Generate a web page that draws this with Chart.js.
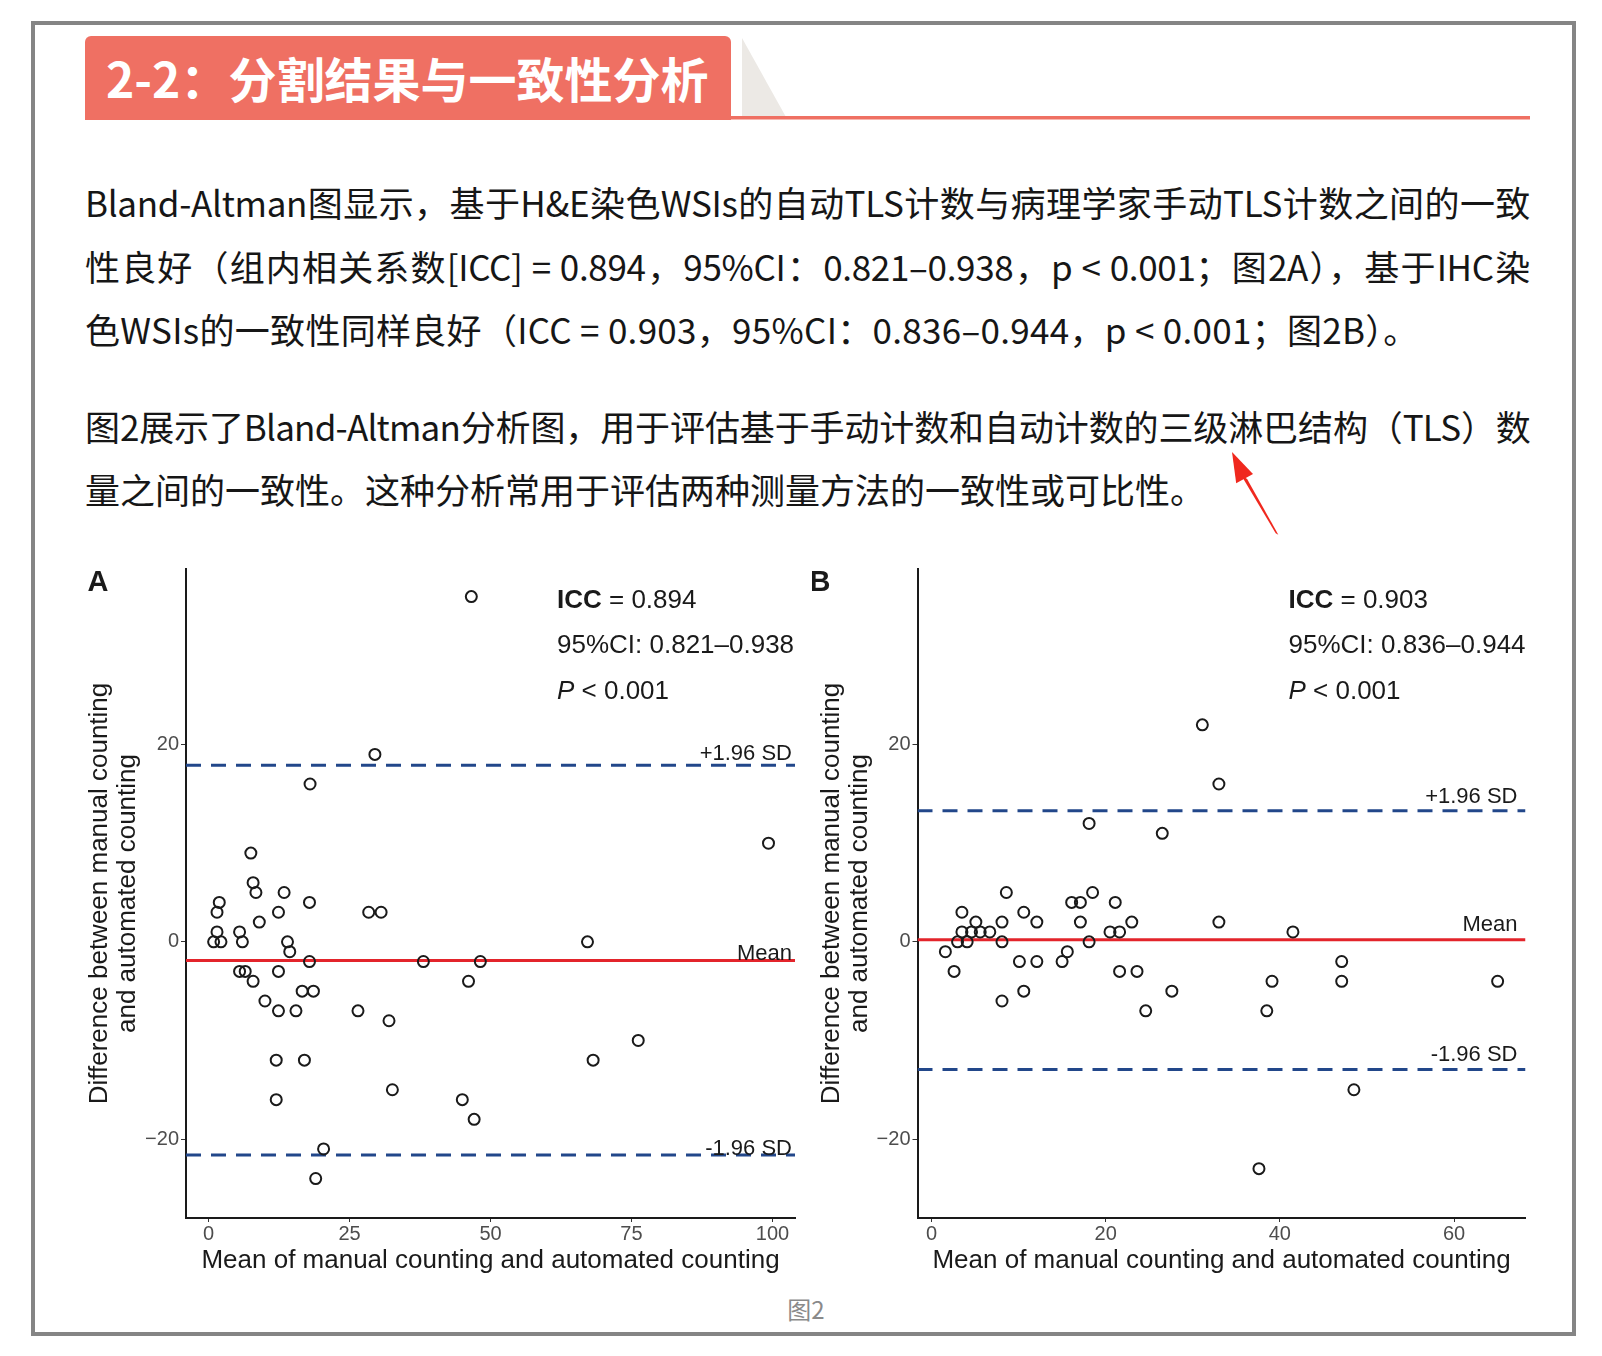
<!DOCTYPE html>
<html>
<head>
<meta charset="utf-8">
<script src="https://cdn.jsdelivr.net/npm/chart.js@4.4.1/dist/chart.umd.min.js"></script>
<style>
  body { margin: 0; width: 1602px; height: 1356px; background: #fff; position: relative; overflow: hidden; }
  .frame { position: absolute; left: 31px; top: 21px; width: 1545px; height: 1315px; border: 4px solid #858585; box-sizing: border-box; }
  .hdr { position: absolute; left: 85px; top: 36px; width: 646px; height: 84px; background: #ef7063; border-radius: 6px 6px 0 0;
         color: #fff; font: bold 48px "Noto Sans CJK SC", sans-serif; line-height: 82px; padding-left: 21px; box-sizing: border-box; white-space: nowrap; }
  .ln { position: absolute; left: 85px; width: 1445px; height: 44px; line-height: 44px; font: 35px "Noto Sans CJK SC", sans-serif;
        color: #161616; white-space: nowrap; }
  .just { text-align: justify; text-align-last: justify; }
  canvas { position: absolute; top: 550px; }
  .cap { position: absolute; left: 706px; width: 200px; top: 1291px; text-align: center; font: 24px "Noto Sans CJK SC", sans-serif; color: #8a8a8a; }
</style>
</head>
<body>
<div class="frame"></div>
<div class="hdr">2-2：分割结果与一致性分析</div>
<svg width="1602" height="600" style="position:absolute;left:0;top:0">
  <polygon points="742,38 742,117 786,117" fill="#ece9e5"/>
  <rect x="731" y="116" width="799" height="3.5" fill="#ef7063"/>
  <polygon points="1278.3,534.7 1275.7,533.3 1241.1,475.1 1247.1,478.9" fill="#f0281e"/>
  <polygon points="1232,452 1253.0,474.0 1236.2,483.2" fill="#f0281e"/>
</svg>
<div class="ln just" style="top:176px;letter-spacing:-0.3px">Bland-Altman图显示，基于H&amp;E染色WSIs的自动TLS计数与病理学家手动TLS计数之间的一致</div>
<div class="ln just" style="top:240px;letter-spacing:-0.3px">性良好（组内相关系数[ICC] = 0.894，95%CI：0.821–0.938，p &lt; 0.001；图2A），基于IHC染</div>
<div class="ln" style="top:303px;letter-spacing:0.3px">色WSIs的一致性同样良好（ICC = 0.903，95%CI：0.836–0.944，p &lt; 0.001；图2B）。</div>
<div class="ln just" style="top:400px;letter-spacing:-0.8px">图2展示了Bland-Altman分析图，用于评估基于手动计数和自动计数的三级淋巴结构（TLS）数</div>
<div class="ln" style="top:463px">量之间的一致性。这种分析常用于评估两种测量方法的一致性或可比性。</div>
<canvas id="chartA" width="730" height="724" style="left:80px"></canvas>
<canvas id="chartB" width="730" height="724" style="left:812px"></canvas>
<div class="cap">图2</div>
<script>
// tick labels
const xTicksA = [0, 25, 50, 75, 100];
const xTicksB = [0, 20, 40, 60];
const yTicks = [-20, 0, 20];

// panel A (H&E): mean of the two counts vs difference
const meanA = [0.9, 2.2, 1.5, 1.5, 1.9, 5.5, 6.0, 5.5, 6.5, 7.9, 7.5, 7.9, 8.4, 9.0, 10, 12.4, 12.4, 12.4, 12, 12,
               13.4, 14, 14.4, 15.5, 16.6, 18.6, 17, 17.9, 17.9, 18, 19, 20.4, 26.5, 28.4, 30.6, 29.5, 32, 32.6, 38.1,
               46.1, 45, 47.1, 48.2, 46.6, 67.2, 68.2, 76.2, 99.3];
const diffA = [0, 0, 1, 3, 4, 1, 0, -3, -3, -4, 9, 6, 5, 2, -6, 3, -3, -7, -12, -16,
               5, 0, -1, -7, -5, -5, -12, 4, -2, 16, -24, -21, -7, 3, 3, 19, -8, -15, -2,
               -4, -16, -18, -2, 35, 0, -12, -10, 10];

// panel B (IHC)
const meanB = [1.6, 2.6, 3.0, 4.1, 3.5, 4.6, 5.6, 6.7, 3.5, 5.1, 8.1, 8.1, 8.1, 8.6, 10.6, 12.1, 10.1, 12.1, 10.6,
               15.0, 15.6, 16.1, 17.1, 17.1, 18.1, 18.1, 18.5, 21.1, 20.5, 21.6, 23.0, 21.6, 23.6, 24.6, 26.5, 27.6,
               31.1, 33, 33, 37.6, 38.5, 39.1, 41.5, 47.1, 47.1, 48.5, 65];
const diffB = [-1, -3, 0, 0, 1, 1, 1, 1, 3, 2, 2, 0, -6, 5, 3, 2, -2, -2, -5,
               -2, -1, 4, 4, 2, 0, 12, 5, 4, 1, 1, 2, -3, -3, -7, 11, -5,
               22, 16, 2, -23, -7, -4, 1, -2, -4, -15, -4];

// +1.96 SD, mean, -1.96 SD
const limitsA = [17.9, -1.9, -21.6];
const limitsB = [13.3, 0.2, -12.95];
const limitLabels = ['+1.96 SD', 'Mean', '-1.96 SD'];

// ICC, 95% CI, P
const statsA = ['0.894', '0.821–0.938', '0.001'];
const statsB = ['0.903', '0.836–0.944', '0.001'];

const FONT = '"Liberation Sans", Arial, sans-serif';

const textPlugin = {
  id: 'blandText',
  afterDatasetsDraw(chart, args, o) {
    const ctx = chart.ctx, ca = chart.chartArea, ys = chart.scales.y;
    ctx.save();
    ctx.textBaseline = 'middle';
    ctx.fillStyle = '#1a1a1a';
    // labels over the limit lines
    ctx.font = '22px ' + FONT;
    ctx.textAlign = 'right';
    o.limits.forEach((v, i) => {
      ctx.fillText(limitLabels[i], ca.right - o.inset, ys.getPixelForValue(v) - o.lift[i]);
    });
    // ICC block
    ctx.textAlign = 'left';
    const x0 = ca.left + o.statX;
    let y = ca.top + 32;
    ctx.font = 'bold 26px ' + FONT;
    ctx.fillText('ICC', x0, y);
    let w = ctx.measureText('ICC').width;
    ctx.font = '26px ' + FONT;
    ctx.fillText(' = ' + o.stats[0], x0 + w, y);
    ctx.fillText('95%CI: ' + o.stats[1], x0, ca.top + 77);
    ctx.font = 'italic 26px ' + FONT;
    ctx.fillText('P', x0, ca.top + 123);
    w = ctx.measureText('P').width;
    ctx.font = '26px ' + FONT;
    ctx.fillText(' < ' + o.stats[2], x0 + w, ca.top + 123);
    // panel letter
    ctx.font = 'bold 29px ' + FONT;
    ctx.textAlign = 'center';
    ctx.fillText(o.letter, o.letterX, 33);
    ctx.restore();
  }
};

function makePanel(id, xs, ys, limits, xTicks, xRange, stats, letter, letterX, lift, inset, padRight, axisW) {
  const lineColors = ['#22478a', '#e3242b', '#22478a'];
  const lines = limits.map((v, i) => ({
    type: 'line',
    data: [{x: xRange[0], y: v}, {x: xRange[1], y: v}],
    borderColor: lineColors[i],
    borderWidth: 3,
    borderDash: i === 1 ? [] : [15, 10],
    pointRadius: 0,
    order: 2
  }));
  const pts = {
    type: 'scatter',
    data: xs.map((x, i) => ({x: x, y: ys[i]})),
    pointRadius: 5.5,
    pointHoverRadius: 5.5,
    pointBorderWidth: 2,
    borderColor: '#1a1a1a',
    backgroundColor: 'rgba(0,0,0,0)',
    order: 1
  };
  const minus = v => v < 0 ? '\u2212' + Math.abs(v) : String(v);
  new Chart(document.getElementById(id), {
    type: 'scatter',
    data: {datasets: [pts].concat(lines)},
    plugins: [textPlugin],
    options: {
      responsive: false,
      animation: false,
      devicePixelRatio: 1,
      layout: {padding: {top: 19, right: padRight, left: 0, bottom: 0}},
      plugins: {
        legend: {display: false},
        tooltip: {enabled: false},
        blandText: {limits: limits, stats: stats, letter: letter, letterX: letterX, lift: lift, inset: inset, statX: 371}
      },
      scales: {
        x: {
          type: 'linear', min: xRange[0], max: xRange[1],
          afterBuildTicks: a => { a.ticks = xTicks.map(v => ({value: v})); },
          afterFit: s => { s.height = 56; },
          border: {display: true, color: '#1a1a1a', width: 2},
          grid: {display: true, drawOnChartArea: false, tickLength: 4, color: '#333'},
          ticks: {color: '#4d4d4d', font: {family: FONT, size: 20}, padding: 0, maxRotation: 0, callback: minus},
          title: {display: true, text: 'Mean of manual counting and automated counting', color: '#1a1a1a',
                  font: {family: FONT, size: 26, lineHeight: 1}, padding: 0}
        },
        y: {
          type: 'linear', min: -28, max: 37.8,
          afterBuildTicks: a => { a.ticks = yTicks.map(v => ({value: v})); },
          afterFit: s => { s.width = axisW; },
          border: {display: true, color: '#1a1a1a', width: 2},
          grid: {display: true, drawOnChartArea: false, tickLength: 5, color: '#333'},
          ticks: {color: '#4d4d4d', font: {family: FONT, size: 20}, padding: 2, callback: minus},
          title: {display: true, text: ['Difference between manual counting', 'and automated counting'], color: '#1a1a1a',
                  font: {family: FONT, size: 26, lineHeight: 1.06}, padding: {top: 6, bottom: 0}}
        }
      }
    }
  });
}

makePanel('chartA', meanA, diffA, limitsA, xTicksA, [-4, 104], statsA, 'A', 18, [11, 7, 6], 3, 15, 106);
makePanel('chartB', meanB, diffB, limitsB, xTicksB, [-1.6, 68.2], statsB, 'B', 8, [14, 15, 15], 8, 16.5, 105.5);
</script>
</body>
</html>
